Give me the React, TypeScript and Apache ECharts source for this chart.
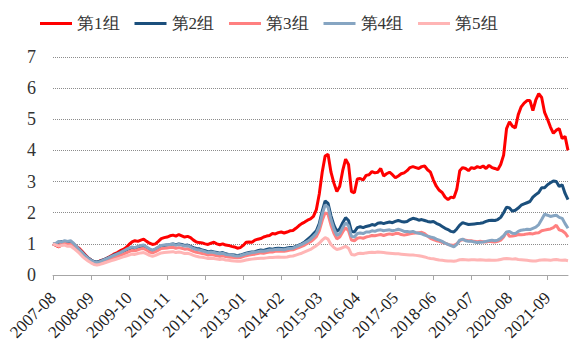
import React, { useEffect, useRef } from "react";
import * as echarts from "echarts";

const START_YEAR = 2007;
const START_MONTH = 8;
const MONTH_COUNT = 177;
const categories: string[] = [];
for (let k = 0; k < MONTH_COUNT; k++) {
  const m = START_MONTH - 1 + k;
  const y = START_YEAR + Math.floor(m / 12);
  const mm = (m % 12) + 1;
  categories.push(`${y}-${String(mm).padStart(2, "0")}`);
}

const seriesNames = ["第1组", "第2组", "第3组", "第4组", "第5组"];
const yTicks = [0, 1, 2, 3, 4, 5, 6, 7];

const group1 = [
  1.00, 0.95, 0.90, 0.98, 1.05, 1.02, 1.05, 1.00, 0.92, 0.85,
  0.75, 0.65, 0.55, 0.48, 0.42, 0.40, 0.45, 0.48, 0.52, 0.57,
  0.62, 0.68, 0.72, 0.78, 0.82, 0.88, 0.98, 1.06, 1.10, 1.08,
  1.12, 1.15, 1.08, 1.02, 0.98, 1.00, 1.08, 1.17, 1.20, 1.22,
  1.26, 1.28, 1.25, 1.30, 1.26, 1.22, 1.24, 1.20, 1.12, 1.06,
  1.04, 1.03, 1.00, 0.98, 1.02, 1.05, 1.00, 0.97, 1.00, 0.96,
  0.95, 0.92, 0.90, 0.86, 0.88, 0.95, 1.05, 1.06, 1.05, 1.12,
  1.15, 1.17, 1.22, 1.25, 1.27, 1.33, 1.32, 1.36, 1.38, 1.35,
  1.38, 1.42, 1.43, 1.50, 1.58, 1.65, 1.70, 1.76, 1.80, 1.88,
  2.10, 2.60, 3.30, 3.82, 3.88, 3.30, 2.95, 2.68, 2.85, 3.35,
  3.72, 3.55, 2.68, 2.64, 3.08, 3.10, 3.05, 3.20, 3.22, 3.32,
  3.28, 3.30, 3.42, 3.18, 3.25, 3.30, 3.22, 3.12, 3.18, 3.25,
  3.28, 3.35, 3.45, 3.48, 3.45, 3.42, 3.48, 3.50, 3.38, 3.30,
  3.05, 2.85, 2.72, 2.65, 2.50, 2.42, 2.50, 2.48, 2.75, 3.35,
  3.45, 3.42, 3.35, 3.45, 3.42, 3.48, 3.45, 3.50, 3.42, 3.52,
  3.45, 3.42, 3.38, 3.55, 3.85, 4.70, 4.92, 4.78, 4.72, 5.15,
  5.40, 5.52, 5.60, 5.60, 5.28, 5.62, 5.82, 5.70, 5.22, 5.00,
  4.75, 4.55, 4.65, 4.70, 4.38, 4.45, 4.00,
];

const group2 = [
  1.00, 0.97, 1.05, 1.08, 1.03, 1.05, 1.02, 0.95, 0.88, 0.80,
  0.72, 0.62, 0.55, 0.48, 0.43, 0.42, 0.44, 0.48, 0.52, 0.56,
  0.60, 0.65, 0.68, 0.72, 0.76, 0.80, 0.85, 0.86, 0.84, 0.88,
  0.90, 0.92, 0.86, 0.80, 0.78, 0.82, 0.88, 0.93, 0.95, 0.96,
  0.98, 1.00, 0.97, 1.00, 0.98, 0.95, 0.96, 0.92, 0.88, 0.85,
  0.84, 0.80, 0.78, 0.74, 0.76, 0.74, 0.72, 0.70, 0.72, 0.68,
  0.66, 0.65, 0.64, 0.62, 0.64, 0.67, 0.70, 0.72, 0.74, 0.75,
  0.78, 0.80, 0.79, 0.82, 0.84, 0.83, 0.85, 0.86, 0.85, 0.84,
  0.87, 0.88, 0.88, 0.92, 0.96, 1.00, 1.06, 1.14, 1.22, 1.32,
  1.42, 1.65, 2.05, 2.38, 2.30, 1.90, 1.60, 1.40, 1.48, 1.68,
  1.84, 1.75, 1.40, 1.38, 1.52, 1.55, 1.52, 1.56, 1.58, 1.62,
  1.60, 1.66, 1.68, 1.65, 1.68, 1.70, 1.68, 1.72, 1.75, 1.72,
  1.70, 1.72, 1.78, 1.82, 1.80, 1.76, 1.78, 1.75, 1.72, 1.70,
  1.72, 1.66, 1.62, 1.56, 1.50, 1.46, 1.40, 1.38, 1.48, 1.60,
  1.68, 1.65, 1.62, 1.63, 1.64, 1.65, 1.66, 1.68, 1.72, 1.75,
  1.76, 1.75, 1.78, 1.85, 2.00, 2.18, 2.15, 2.05, 2.08, 2.15,
  2.24, 2.28, 2.32, 2.36, 2.50, 2.58, 2.65, 2.80, 2.80, 2.90,
  2.96, 3.02, 3.00, 2.84, 2.90, 2.62, 2.42,
];

const group3 = [
  1.00, 0.98, 0.95, 1.00, 1.02, 0.98, 1.00, 0.93, 0.85, 0.76,
  0.66, 0.56, 0.48, 0.42, 0.36, 0.35, 0.37, 0.40, 0.44, 0.48,
  0.52, 0.56, 0.60, 0.63, 0.67, 0.71, 0.75, 0.79, 0.78, 0.81,
  0.84, 0.85, 0.80, 0.74, 0.71, 0.75, 0.80, 0.85, 0.86, 0.87,
  0.88, 0.89, 0.86, 0.88, 0.86, 0.83, 0.84, 0.80, 0.76, 0.73,
  0.71, 0.69, 0.67, 0.64, 0.66, 0.64, 0.62, 0.60, 0.62, 0.59,
  0.58, 0.57, 0.56, 0.55, 0.56, 0.59, 0.62, 0.64, 0.66, 0.67,
  0.69, 0.71, 0.70, 0.72, 0.74, 0.74, 0.76, 0.77, 0.76, 0.76,
  0.78, 0.80, 0.81, 0.85, 0.88, 0.92, 0.96, 1.02, 1.07, 1.14,
  1.23, 1.42, 1.75, 2.00, 1.95, 1.60, 1.34, 1.16, 1.22, 1.38,
  1.52, 1.42, 1.12, 1.10, 1.18, 1.20, 1.18, 1.22, 1.24, 1.27,
  1.26, 1.28, 1.30, 1.27, 1.30, 1.32, 1.30, 1.33, 1.34, 1.30,
  1.28, 1.30, 1.32, 1.34, 1.35, 1.36, 1.37, 1.33, 1.25, 1.18,
  1.14, 1.10, 1.08, 1.05, 1.02, 0.98, 0.96, 0.95, 1.00, 1.10,
  1.14, 1.12, 1.10, 1.10, 1.08, 1.07, 1.08, 1.07, 1.06, 1.08,
  1.07, 1.06, 1.08, 1.12, 1.22, 1.38, 1.24, 1.25, 1.27, 1.30,
  1.29, 1.30, 1.32, 1.33, 1.32, 1.35, 1.36, 1.42, 1.44, 1.46,
  1.48, 1.52, 1.60, 1.45, 1.42, 1.35, 1.22,
];

const group4 = [
  1.00, 1.02, 1.08, 1.06, 1.10, 1.08, 1.10, 1.02, 0.92, 0.82,
  0.72, 0.62, 0.54, 0.47, 0.42, 0.40, 0.43, 0.47, 0.51, 0.55,
  0.60, 0.64, 0.68, 0.72, 0.77, 0.82, 0.86, 0.90, 0.88, 0.92,
  0.95, 0.96, 0.90, 0.84, 0.80, 0.84, 0.90, 0.95, 0.96, 0.97,
  0.98, 0.99, 0.96, 0.98, 0.96, 0.93, 0.94, 0.90, 0.85, 0.82,
  0.80, 0.78, 0.75, 0.72, 0.74, 0.72, 0.70, 0.68, 0.70, 0.66,
  0.65, 0.64, 0.62, 0.61, 0.62, 0.65, 0.68, 0.70, 0.72, 0.73,
  0.75, 0.77, 0.76, 0.78, 0.80, 0.80, 0.82, 0.83, 0.82, 0.81,
  0.84, 0.85, 0.86, 0.90, 0.94, 0.98, 1.03, 1.08, 1.15, 1.24,
  1.34, 1.56, 1.95, 2.25, 2.18, 1.78, 1.48, 1.27, 1.33, 1.52,
  1.68, 1.58, 1.24, 1.22, 1.33, 1.35, 1.33, 1.38, 1.38, 1.42,
  1.40, 1.44, 1.45, 1.42, 1.44, 1.45, 1.42, 1.44, 1.47, 1.44,
  1.40, 1.40, 1.38, 1.40, 1.36, 1.34, 1.32, 1.28, 1.25, 1.22,
  1.20, 1.15, 1.12, 1.08, 1.02, 0.98, 0.94, 0.90, 0.98, 1.12,
  1.15, 1.10, 1.08, 1.08, 1.06, 1.04, 1.05, 1.06, 1.08, 1.10,
  1.12, 1.10, 1.12, 1.18, 1.26, 1.38, 1.40, 1.34, 1.33, 1.40,
  1.44, 1.45, 1.47, 1.46, 1.50, 1.54, 1.62, 1.78, 1.95, 1.92,
  1.88, 1.90, 1.92, 1.85, 1.82, 1.65, 1.50,
];

const group5 = [
  1.00, 0.96, 0.92, 0.95, 0.96, 0.92, 0.93, 0.86, 0.78, 0.70,
  0.60, 0.52, 0.45, 0.39, 0.34, 0.32, 0.34, 0.37, 0.40, 0.43,
  0.46, 0.49, 0.52, 0.55, 0.58, 0.61, 0.64, 0.67, 0.66, 0.69,
  0.71, 0.72, 0.68, 0.63, 0.60, 0.63, 0.67, 0.71, 0.72, 0.73,
  0.74, 0.75, 0.72, 0.74, 0.72, 0.69, 0.70, 0.67, 0.63, 0.60,
  0.58, 0.57, 0.55, 0.53, 0.54, 0.53, 0.51, 0.50, 0.51, 0.48,
  0.47, 0.46, 0.45, 0.44, 0.44, 0.46, 0.48, 0.50, 0.51, 0.52,
  0.53, 0.54, 0.54, 0.55, 0.56, 0.56, 0.57, 0.58, 0.57, 0.57,
  0.58, 0.60, 0.61, 0.64, 0.67, 0.70, 0.74, 0.78, 0.82, 0.88,
  0.94, 1.02, 1.12, 1.20, 1.15, 0.98, 0.88, 0.82, 0.84, 0.88,
  0.92, 0.86, 0.66, 0.64, 0.68, 0.70, 0.69, 0.71, 0.72, 0.73,
  0.72, 0.74, 0.73, 0.72, 0.71, 0.70, 0.69, 0.68, 0.68, 0.67,
  0.66, 0.65, 0.64, 0.64, 0.63, 0.62, 0.60, 0.58, 0.55, 0.53,
  0.52, 0.50, 0.48, 0.47, 0.46, 0.45, 0.45, 0.44, 0.46, 0.49,
  0.50, 0.49, 0.48, 0.49, 0.49, 0.48, 0.49, 0.48, 0.47, 0.48,
  0.47, 0.47, 0.48, 0.50, 0.52, 0.53, 0.52, 0.51, 0.52, 0.50,
  0.49, 0.48, 0.47, 0.46, 0.45, 0.45, 0.47, 0.48, 0.49, 0.48,
  0.47, 0.49, 0.50, 0.48, 0.47, 0.48, 0.46,
];

const seriesData = [group1, group2, group3, group4, group5];
const seriesColors = ["#FF0000", "#1B4F7C", "#FF8080", "#86A5C2", "#FFB5B5"];

const FONT = "Liberation Serif";

export default function App() {
  const ref = useRef<HTMLDivElement>(null);
  useEffect(() => {
    if (!ref.current) return;
    const chart = echarts.init(ref.current, undefined, { renderer: "svg" });
    chart.setOption({
      animation: false,
      backgroundColor: "#FFFFFF",
      legend: {
        data: seriesNames,
        top: 10,
        left: 35,
        icon: "rect",
        itemWidth: 32,
        itemHeight: 3,
        itemGap: 15,
        textStyle: { fontFamily: FONT, fontSize: 17, color: "#333" },
      },
      grid: { left: 53, right: 11, top: 57, bottom: 76, containLabel: false },
      xAxis: {
        type: "category",
        data: categories,
        boundaryGap: false,
        axisLine: { lineStyle: { color: "#A6A6A6", width: 1 } },
        axisTick: { interval: 12, length: 5, lineStyle: { color: "#A6A6A6" } },
        axisLabel: {
          interval: 12,
          rotate: 45,
          margin: 20,
          fontFamily: FONT,
          fontSize: 17,
          color: "#222",
        },
        splitLine: { show: false },
      },
      yAxis: {
        type: "value",
        min: yTicks[0],
        max: yTicks[yTicks.length - 1],
        interval: 1,
        axisLine: { show: false },
        axisTick: { show: false },
        axisLabel: { margin: 17, fontFamily: FONT, fontSize: 18, color: "#333" },
        splitLine: { lineStyle: { type: "dotted", color: "#8C8C8C", width: 1 } },
      },
      series: seriesNames.map((name, idx) => ({
        name,
        type: "line",
        data: seriesData[idx],
        symbol: "none",
        showSymbol: false,
        itemStyle: { color: seriesColors[idx] },
        lineStyle: { color: seriesColors[idx], width: 3 },
      })),
    });
    return () => chart.dispose();
  }, []);
  return (
    <div
      ref={ref}
      style={{ position: "fixed", left: 0, top: 0, width: 579, height: 351 }}
    />
  );
}
